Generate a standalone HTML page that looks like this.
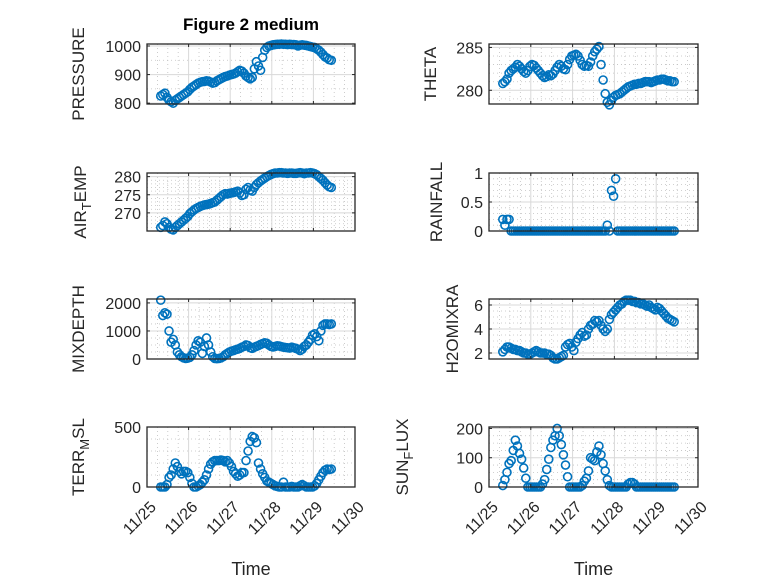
<!DOCTYPE html>
<html><head><meta charset="utf-8"><style>
body{margin:0;background:#fff;}
svg{display:block;font-family:"Liberation Sans","DejaVu Sans",sans-serif;}
</style></head><body>
<svg id="fig" width="778" height="583" viewBox="0 0 778 583"></svg>
<script>
const t0 = 25.33, dt = 0.05;
const xTickLabels = ["11/25","11/26","11/27","11/28","11/29","11/30"];
const pressure = [825,830,835,820,810,805,800,810,815,820,825,830,835,840,848,855,860,865,870,873,875,876,878,877,874,870,872,878,882,886,890,893,895,898,900,902,905,910,915,912,905,895,890,885,890,920,945,930,915,960,985,995,1000,1002,1004,1005,1006,1006,1007,1006,1006,1005,1006,1005,1005,1004,1000,1003,1004,1003,1002,1000,998,996,995,990,985,978,970,962,958,952,950];
const theta = [280.8,281,281.3,282,282.3,282.5,282.7,283,282.8,282.5,282.2,282,282.3,282.8,283,282.9,282.6,282.3,282,281.7,281.5,281.6,281.8,281.7,281.9,282.3,282.7,283,282.8,282.5,282.4,283,283.6,284,284.1,284.2,284,283.5,283,282.8,282.9,282.8,283.3,284,284.5,284.8,285.1,283,281.2,279.6,278.6,278.3,278.8,279.2,279.4,279.5,279.6,279.8,280,280.2,280.4,280.5,280.6,280.7,280.7,280.8,280.8,280.9,281,281,281,280.9,281,281.1,281.2,281.2,281.3,281.3,281.2,281.1,281.1,281,281];
const airTemp = [266,266.5,267.5,267,266,265.5,265.3,266,266.5,267,267.5,268,268.5,269,269.8,270.3,270.8,271.2,271.5,271.8,272,272.2,272.3,272.4,272.6,272.8,273,273.5,274,274.5,275,275.3,275.2,275.4,275.5,275.6,275.8,276,275.5,274.8,275,276.5,277,276.3,276,277,277.8,278.3,278.8,279.2,279.6,280,280.3,280.6,280.8,281,281,281.1,281.1,281,281,280.9,281,281,280.9,280.9,281,281.1,281,280.8,281,281,281.1,281,280.8,280.5,280,279.5,279,278.3,277.7,277.2,277];
const rainfall = [0.2,0.1,0.2,0.2,0,0,0,0,0,0,0,0,0,0,0,0,0,0,0,0,0,0,0,0,0,0,0,0,0,0,0,0,0,0,0,0,0,0,0,0,0,0,0,0,0,0,0,0,0,0,0.1,0,0.7,0.6,0.9,0,0,0,0,0,0,0,0,0,0,0,0,0,0,0,0,0,0,0,0,0,0,0,0,0,0,0,0];
const mixDepth = [2100,1550,1650,1600,1000,600,700,500,250,150,80,40,20,30,60,150,300,500,650,600,200,450,750,500,250,80,20,10,20,40,80,150,200,250,280,300,330,350,380,420,450,500,480,400,380,420,450,480,520,550,580,560,500,450,430,450,470,460,440,420,410,400,390,420,400,380,350,300,350,450,500,600,700,850,900,800,650,1000,1200,1250,1250,1230,1250];
const h2oMix = [2.1,2.3,2.5,2.5,2.4,2.3,2.3,2.2,2.2,2.1,2.0,2.0,1.9,1.9,2.0,2.1,2.2,2.1,2.0,2.0,2.0,1.9,1.9,1.8,1.6,1.5,1.5,1.6,1.7,1.8,2.5,2.7,2.8,2.5,2.2,2.9,3.2,3.5,3.7,3.4,3.5,4.0,4.3,4.4,4.7,4.6,4.7,4.3,4.0,3.8,4.0,4.8,5.2,5.4,5.6,5.8,6.0,6.1,6.3,6.4,6.4,6.4,6.3,6.3,6.2,6.2,6.1,6.1,6.0,5.9,6.0,5.8,5.7,5.6,5.8,5.7,5.5,5.3,5.1,4.9,4.8,4.7,4.6];
const terrMsl = [0,0,0,20,80,100,150,200,170,130,110,130,130,120,80,30,0,0,10,20,40,60,100,150,190,210,220,220,220,225,220,210,220,200,170,130,110,90,100,120,120,220,300,380,420,410,370,200,150,110,80,50,40,30,20,10,5,0,0,40,0,0,0,5,0,0,0,10,20,10,0,0,0,0,10,30,60,90,120,140,150,145,150];
const sunFlux = [5,25,50,80,90,125,160,140,115,95,65,30,0,0,0,0,0,0,0,10,25,60,95,135,160,175,200,175,145,110,75,35,0,0,0,0,0,0,5,20,30,55,100,95,90,120,140,110,80,55,25,5,0,0,0,0,0,0,0,0,10,15,15,10,0,0,0,0,0,0,0,0,0,0,0,0,0,0,0,0,0,0,0];

const NS="http://www.w3.org/2000/svg";
const svg=document.getElementById('fig');
function mk(tag,attrs,parent){const e=document.createElementNS(NS,tag);for(const k in attrs)e.setAttribute(k,attrs[k]);(parent||svg).appendChild(e);return e;}

const panels=[
 {name:'pressure',data:pressure,x0:147,x1:355,y0:44,y1:104,ymin:797,ymax:1007,ticks:[800,900,1000],labels:["800","900","1000"],minor:[850,950],yl:["PRESSURE"],ylx:78},
 {name:'theta',data:theta,x0:489,x1:698,y0:44,y1:104,ymin:278.4,ymax:285.4,ticks:[280,285],labels:["280","285"],minor:[279,281,282,283,284],yl:["THETA"],ylx:430},
 {name:'air-temp',data:airTemp,x0:147,x1:355,y0:173,y1:231,ymin:265,ymax:281,ticks:[270,275,280],labels:["270","275","280"],minor:[266,267,268,269,271,272,273,274,276,277,278,279],yl:["AIR","T","EMP"],ylx:80},
 {name:'rainfall',data:rainfall,x0:489,x1:698,y0:173,y1:231,ymin:0,ymax:1,ticks:[0,0.5,1],labels:["0","0.5","1"],minor:[0.1,0.2,0.3,0.4,0.6,0.7,0.8,0.9],yl:["RAINFALL"],ylx:436},
 {name:'mixdepth',data:mixDepth,x0:147,x1:355,y0:299,y1:359,ymin:0,ymax:2140,ticks:[0,1000,2000],labels:["0","1000","2000"],minor:[250,500,750,1250,1500,1750],yl:["MIXDEPTH"],ylx:78},
 {name:'h2omixra',data:h2oMix,x0:489,x1:698,y0:299,y1:359,ymin:1.5,ymax:6.5,ticks:[2,4,6],labels:["2","4","6"],minor:[2.5,3,3.5,4.5,5,5.5],yl:["H2OMIXRA"],ylx:452},
 {name:'terr-msl',data:terrMsl,x0:147,x1:355,y0:427,y1:487,ymin:0,ymax:500,ticks:[0,500],labels:["0","500"],minor:[100,200,300,400],yl:["TERR","M","SL"],ylx:78},
 {name:'sun-flux',data:sunFlux,x0:489,x1:698,y0:427,y1:487,ymin:0,ymax:205,ticks:[0,100,200],labels:["0","100","200"],minor:[25,50,75,125,150,175],yl:["SUN","F","LUX"],ylx:402}
];

panels.forEach((p,pi)=>{
 const g=mk('g',{});
 
 
 const X=t=>p.x0+(t-25)/5*(p.x1-p.x0);
 const Y=v=>p.y1-(v-p.ymin)/(p.ymax-p.ymin)*(p.y1-p.y0);
 for(let d=25;d<30;d++)for(let q=1;q<4;q++){const x=X(d+q/4);mk('line',{x1:x,x2:x,y1:p.y0,y2:p.y1,stroke:'#c0c0c0','stroke-width':0.8,'stroke-dasharray':'1,3'},g);}
 p.minor.forEach(v=>{const y=Y(v);mk('line',{x1:p.x0,x2:p.x1,y1:y,y2:y,stroke:'#c0c0c0','stroke-width':0.8,'stroke-dasharray':'1,3'},g);});
 xTickLabels.forEach((l,i)=>{const x=X(25+i);mk('line',{x1:x,x2:x,y1:p.y0,y2:p.y1,stroke:'#d8d8d8','stroke-width':1},g);});
 p.ticks.forEach(v=>{const y=Y(v);mk('line',{x1:p.x0,x2:p.x1,y1:y,y2:y,stroke:'#d8d8d8','stroke-width':1},g);});
 p.data.forEach((v,i)=>{
  const c=mk('circle',{cx:X(t0+i*dt),cy:Y(v),r:4,fill:'none',stroke:'#0072bd','stroke-width':1.6},g);
  
  
 });
 mk('rect',{x:p.x0,y:p.y0,width:p.x1-p.x0,height:p.y1-p.y0,fill:'none',stroke:'#262626','stroke-width':1.3},g);
 xTickLabels.forEach((l,i)=>{const x=X(25+i);mk('line',{x1:x,x2:x,y1:p.y1,y2:p.y1-3,stroke:'#262626'},g);mk('line',{x1:x,x2:x,y1:p.y0,y2:p.y0+3,stroke:'#262626'},g);});
 p.ticks.forEach((v,i)=>{const y=Y(v);mk('line',{x1:p.x0,x2:p.x0+3,y1:y,y2:y,stroke:'#262626'},g);mk('line',{x1:p.x1,x2:p.x1-3,y1:y,y2:y,stroke:'#262626'},g);
  const t=mk('text',{x:p.x0-6,y:y+6,'text-anchor':'end','font-size':16,fill:'#262626'},g);t.textContent=p.labels[i];
  
  
 });
 const yc=(p.y0+p.y1)/2;
 const yl=mk('text',{x:0,y:0,'text-anchor':'middle','font-size':17,fill:'#262626',transform:`translate(${p.ylx+6},${yc}) rotate(-90)`},g);
 
 
 if(p.yl.length===1){yl.textContent=p.yl[0];}
 else{const a=mk('tspan',{},yl);a.textContent=p.yl[0];const b=mk('tspan',{'font-size':13,dy:5},yl);b.textContent=p.yl[1];const c=mk('tspan',{dy:-5},yl);c.textContent=p.yl[2];}
 if(pi>=6){
  xTickLabels.forEach((l,i)=>{const x=X(25+i);
   const t=mk('text',{x:0,y:0,'text-anchor':'end','font-size':16,fill:'#262626',transform:`translate(${x+10},${p.y1+21}) rotate(-45)`},g);t.textContent=l;
   
   
  });
  const tt=mk('text',{x:(p.x0+p.x1)/2,y:575,'text-anchor':'middle','font-size':18,fill:'#262626'},g);tt.textContent='Time';
  
  
 }
});
const title=mk('text',{x:251,y:30,'text-anchor':'middle','font-size':17,'font-weight':'bold',fill:'#000'});
title.textContent='Figure 2 medium';


</script>
</body></html>
